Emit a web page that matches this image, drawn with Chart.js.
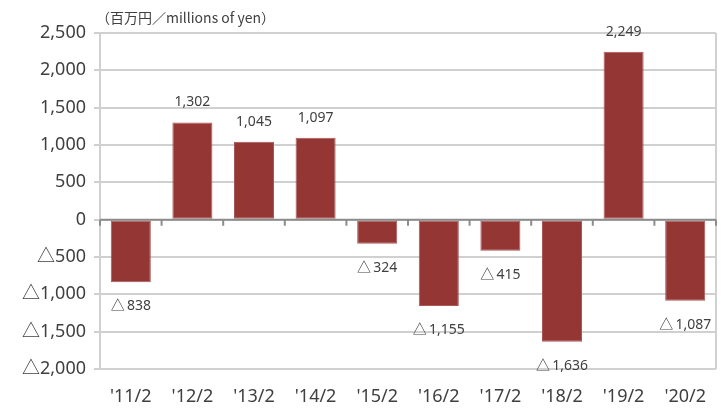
<!DOCTYPE html>
<html>
<head>
<meta charset="utf-8">
<script src="https://cdn.jsdelivr.net/npm/chart.js@4"></script>
<style>
  html, body { margin: 0; padding: 0; background: #fff; }
  #wrap { position: relative; width: 721px; height: 412px; }
  #unit { position: absolute; left: 96px; top: 7px; font: 14px "Noto Sans CJK JP", "Noto Sans", sans-serif; color: #404040; }
</style>
</head>
<body>
<div id="wrap">
  <canvas id="profitChart" width="721" height="412"></canvas>
  <div id="unit">（百万円／millions of yen）</div>
</div>
<script>
const categories = ["'11/2", "'12/2", "'13/2", "'14/2", "'15/2", "'16/2", "'17/2", "'18/2", "'19/2", "'20/2"];
const profits = [-838, 1302, 1045, 1097, -324, -1155, -415, -1636, 2249, -1087];
const yMin = -2000;
const yMax = 2500;
const yStep = 500;

const fmt = (v, gap) => {
    const s = Math.abs(v).toLocaleString('en-US');
    return v < 0 ? '△' + (gap || '') + s : s;
};

const fontFamily = '"Noto Sans", "Noto Sans CJK JP", sans-serif';

// zero line, boundary ticks, right frame, value labels
const extras = {
    id: 'extras',
    afterDatasetsDraw(chart) {
        const { ctx, chartArea, scales } = chart;
        const x = scales.x, y = scales.y;
        const y0 = y.getPixelForValue(0);
        ctx.save();
        ctx.strokeStyle = '#d0d0d0';
        ctx.lineWidth = 2;
        ctx.beginPath();
        ctx.moveTo(chartArea.right, chartArea.top);
        ctx.lineTo(chartArea.right, chartArea.bottom);
        ctx.stroke();

        ctx.strokeStyle = '#8c8c8c';
        ctx.lineWidth = 2;
        ctx.beginPath();
        ctx.moveTo(chartArea.left, y0);
        ctx.lineTo(chartArea.right, y0);
        const step = (chartArea.right - chartArea.left) / categories.length;
        for (let i = 0; i <= categories.length; i++) {
            const px = chartArea.left + step * i;
            ctx.moveTo(px, y0);
            ctx.lineTo(px, y0 + 6);
        }
        ctx.stroke();

        ctx.fillStyle = '#404040';
        ctx.font = '14px ' + fontFamily;
        ctx.textAlign = 'center';
        ctx.textBaseline = 'middle';
        profits.forEach((v, i) => {
            const px = x.getPixelForValue(i);
            const py = y.getPixelForValue(v);
            ctx.fillText(fmt(v, '\u2009'), px, v >= 0 ? py - 20 : py + 24);
        });
        ctx.restore();
    }
};

new Chart(document.getElementById('profitChart').getContext('2d'), {
    type: 'bar',
    data: {
        labels: categories,
        datasets: [{
            data: profits,
            backgroundColor: '#943634',
            borderColor: '#a85856',
            borderWidth: 1,
            borderSkipped: false,
            barPercentage: 0.65,
            categoryPercentage: 1
        }]
    },
    options: {
        responsive: false,
        animation: false,
        layout: { padding: { top: 33, right: 5, left: 0, bottom: 0 } },
        plugins: { legend: { display: false }, tooltip: { enabled: false } },
        scales: {
            x: {
                grid: { display: false },
                border: { display: false },
                ticks: { color: '#404040', font: { size: 18, family: fontFamily }, padding: 9 },
                afterFit(scale) { scale.height = 43; }
            },
            y: {
                min: yMin,
                max: yMax,
                ticks: {
                    stepSize: yStep,
                    color: '#404040',
                    font: { size: 18, family: fontFamily },
                    padding: 8,
                    callback: (v) => fmt(v)
                },
                grid: { color: '#d0d0d0', lineWidth: 2, tickLength: 6 },
                border: { color: '#d0d0d0', width: 2 },
                afterFit(scale) { scale.width = 100; }
            }
        }
    },
    plugins: [extras]
});
</script>
</body>
</html>
